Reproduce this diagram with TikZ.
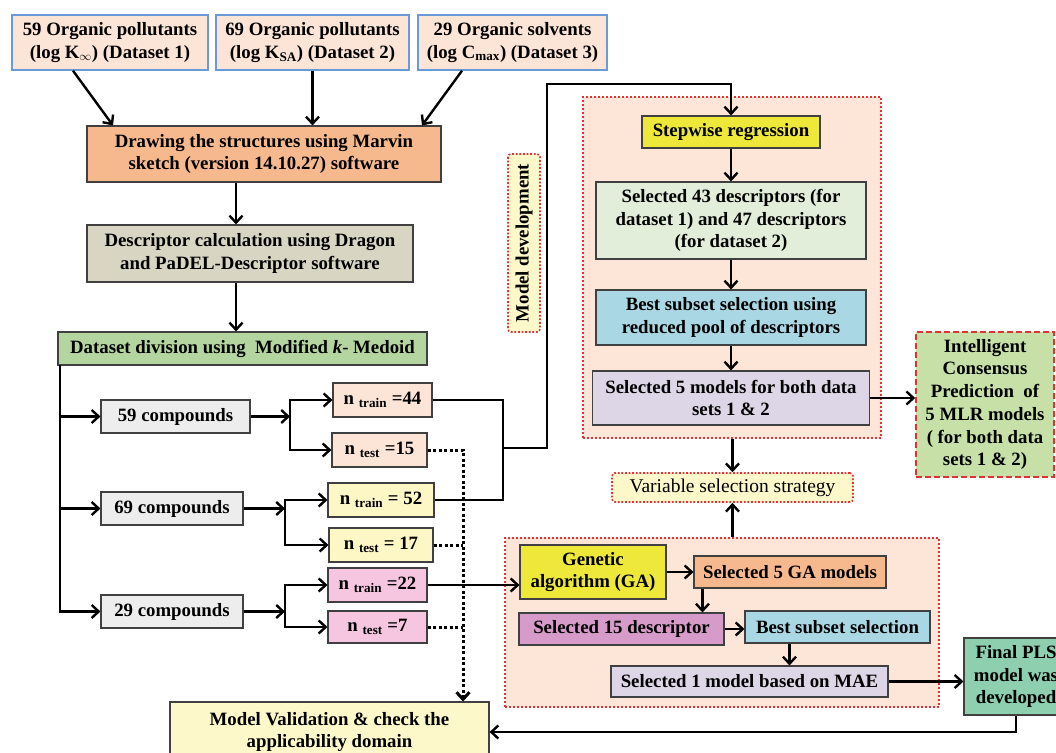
\documentclass[tikz,border=0pt]{standalone}
\usepackage{fontspec}
\setmainfont{Liberation Serif}
\usetikzlibrary{arrows.meta}

\definecolor{peach}{RGB}{252,228,214}
\definecolor{salmon}{RGB}{246,185,142}
\definecolor{beige}{RGB}{217,213,195}
\definecolor{leaf}{RGB}{181,213,160}
\definecolor{greybox}{RGB}{237,237,237}
\definecolor{cream}{RGB}{253,246,197}
\definecolor{pinkbox}{RGB}{246,198,224}
\definecolor{regfill}{RGB}{253,229,215}
\definecolor{lemon}{RGB}{237,232,58}
\definecolor{mint}{RGB}{226,237,218}
\definecolor{sky}{RGB}{169,216,228}
\definecolor{lilac}{RGB}{220,214,230}
\definecolor{lime}{RGB}{198,224,168}
\definecolor{orchid}{RGB}{214,155,201}
\definecolor{jade}{RGB}{142,207,175}
\definecolor{paleyellow}{RGB}{252,248,202}
\definecolor{edgeblue}{RGB}{106,155,216}
\definecolor{dotred}{RGB}{224,50,50}

\tikzset{
  box/.style={draw=black!75,line width=1.1pt,inner sep=0pt,align=center,font=\fontsize{18.8}{22.7}\selectfont\bfseries},
  topbox/.style={box,draw=edgeblue,line width=1.4pt,fill=peach},
  region/.style={draw=dotred,fill=regfill,line width=2pt,dash pattern=on 2pt off 2pt,inner sep=0pt},
  tag/.style={draw=dotred,fill=paleyellow,line width=1.6pt,dash pattern=on 1.8pt off 1.8pt,rounded corners=3pt,inner sep=0pt,align=center,font=\fontsize{19.5}{22}\selectfont},
  flow/.style={line width=2.4pt,->},
  testline/.style={line width=3pt,dash pattern=on 3pt off 2.5pt},
}

\begin{document}
\begin{tikzpicture}[x=1pt,y=-1pt,>={Straight Barb[length=7pt,width=13pt]}]

\useasboundingbox (0,0) rectangle (1056,752);
\fill[white] (0,0) rectangle (1056,752);
\clip (0,0) rectangle (1056,752);

% the two dotted regions
\node[region,minimum width=298pt,minimum height=341pt] (mlreg) at (732,267.5) {};
\node[region,minimum width=434pt,minimum height=169pt] (gareg) at (722,622.5) {};

% datasets
\node[topbox,minimum width=196pt,minimum height=55pt] (d1) at (110,42.5) {59 Organic pollutants\\(log K\textsubscript{$\infty$}) (Dataset 1)};
\node[topbox,minimum width=193pt,minimum height=55pt] (d2) at (312.5,42.5) {69 Organic pollutants\\(log K\textsubscript{SA}) (Dataset 2)};
\node[topbox,minimum width=189pt,minimum height=55pt] (d3) at (512.5,42.5) {29 Organic solvents\\(log C\textsubscript{max}) (Dataset 3)};

\node[box,fill=salmon,minimum width=354pt,minimum height=56pt] (mar) at (264,154) {Drawing the structures using Marvin\\sketch (version 14.10.27) software};
\node[box,fill=beige,minimum width=326pt,minimum height=57pt] (desc) at (250,253.5) {Descriptor calculation using Dragon\\and PaDEL-Descriptor software};
\node[box,fill=leaf,minimum width=369pt,minimum height=33pt] (ds) at (242.5,348.5) {Dataset division using~ Modified \textit{k}- Medoid};

\node[box,fill=greybox,minimum width=149pt,minimum height=33pt] (c59) at (175.5,416.5) {59 compounds};
\node[box,fill=greybox,minimum width=142pt,minimum height=33pt] (c69) at (172,508.5) {69 compounds};
\node[box,fill=greybox,minimum width=142pt,minimum height=33pt] (c29) at (172,611.5) {29 compounds};

\node[box,fill=peach,minimum width=99pt,minimum height=34pt] (tr44) at (382.5,400) {n \textsubscript{train} =44};
\node[box,fill=peach,minimum width=95pt,minimum height=34pt] (te15) at (379.5,450) {n \textsubscript{test} =15};
\node[box,fill=cream,minimum width=106pt,minimum height=34pt] (tr52) at (381,500) {n \textsubscript{train} = 52};
\node[box,fill=cream,minimum width=104pt,minimum height=34pt] (te17) at (381,545) {n \textsubscript{test} = 17};
\node[box,fill=pinkbox,minimum width=99pt,minimum height=34pt] (tr22) at (377.5,585) {n \textsubscript{train} =22};
\node[box,fill=pinkbox,minimum width=99pt,minimum height=32pt] (te7) at (377.5,627) {n \textsubscript{test} =7};

\node[tag,font=\fontsize{18.8}{22.7}\selectfont\bfseries,rotate=90,minimum width=178pt,minimum height=32pt] (mdl) at (524,243) {Model development};

% stepwise branch
\node[box,fill=lemon,minimum width=178pt,minimum height=32pt] (step) at (731,132) {Stepwise regression};
\node[box,fill=mint,minimum width=270pt,minimum height=77pt] (s43) at (731,220.5) {Selected 43 descriptors (for\\dataset 1) and 47 descriptors\\(for dataset 2)};
\node[box,fill=sky,minimum width=270pt,minimum height=55pt] (bs1) at (731,317.5) {Best subset selection using\\reduced pool of descriptors};
\node[box,fill=lilac,minimum width=277pt,minimum height=54pt] (s5) at (731,398) {Selected 5 models for both data\\sets 1 \& 2};
\node[box,draw=dotred,line width=1.6pt,dash pattern=on 6pt off 3pt,fill=lime,minimum width=138pt,minimum height=145pt] (icp) at (985,404.5) {Intelligent\\Consensus\\Prediction~ of\\5 MLR models\\( for both data\\sets 1 \& 2)};

\node[tag,minimum width=241pt,minimum height=29pt] (vs) at (732.5,487.5) {Variable selection strategy};

% GA branch
\node[box,fill=lemon,minimum width=146pt,minimum height=54pt] (ga) at (593,572) {Genetic\\algorithm (GA)};
\node[box,fill=salmon,minimum width=192pt,minimum height=32pt] (s5ga) at (790,572) {Selected 5 GA models};
\node[box,fill=orchid,minimum width=205pt,minimum height=32pt] (s15) at (621.5,629) {Selected 15 descriptor};
\node[box,fill=sky,minimum width=185pt,minimum height=32pt] (bs2) at (837.5,627) {Best subset selection};
\node[box,fill=lilac,minimum width=277pt,minimum height=31pt] (sel1) at (749.5,681.5) {Selected 1 model based on MAE};
\node[box,fill=jade,minimum width=104pt,minimum height=77pt] (fin) at (1016,676.5) {Final PLS\\model was\\developed};

\node[box,fill=paleyellow,minimum width=319pt,minimum height=60pt] (mv) at (329.5,732) {Model Validation \& check the\\applicability domain};

% helper points
\coordinate (mid) at (236,0);
\coordinate (dsl) at (60,365);
\coordinate (b59) at (290,416.5);
\coordinate (b69) at (285,508.5);
\coordinate (b29) at (285,611.5);
\coordinate (jn) at (503,448);
\coordinate (up) at (547,84);
\coordinate (dt) at (463,450);
\path ([xshift=9pt]s5ga.south west) coordinate (g1);
\path ([xshift=-48pt]bs2.south) coordinate (g2);

\draw[flow] ([xshift=-37pt]d1.south) -- ([xshift=-151pt]mar.north);
\draw[flow] (d2.south) -- (d2 |- mar.north);
\draw[flow] ([xshift=-50.5pt]d3.south) -- ([xshift=158pt]mar.north);
\draw[flow] (mar.south -| mid) -- (desc.north -| mid);
\draw[flow] (desc.south -| mid) -- (ds.north -| mid);

\draw[flow] (dsl) |- (c59);
\draw[flow] (dsl) |- (c69);
\draw[flow] (dsl) |- (c29);

\draw[flow] (c59) -- (b59);
\draw[flow] (b59) |- (tr44);
\draw[flow] (b59) |- (te15);
\draw[flow] (c69) -- (b69);
\draw[flow] (b69) |- (tr52);
\draw[flow] (b69) |- (te17);
\draw[flow] (c29) -- (b29);
\draw[flow] (b29) |- (tr22);
\draw[flow] (b29) |- (te7);

\draw[line width=2.4pt] (tr44) -| (jn) |- (tr52);
\draw[flow] (jn) -| (up) -| (step);

\draw[testline,->] (te15) -- (dt) -- (dt |- mv.north);
\draw[testline] (te17) -- (te17 -| dt);
\draw[testline] (te7) -- (te7 -| dt);

\draw[flow] (tr22) -- (tr22 -| ga.west);

\path[flow] (step) edge (s43)
      (s43) edge (bs1)
            (bs1) edge (s5);
\draw[flow] (s5) -- (s5 -| icp.west);
\draw[flow] (vs |- mlreg.south) -- (vs);
\draw[flow] (vs |- gareg.north) -- (vs);

\draw[flow] (ga) -- (s5ga);
\draw[flow] (g1) -- (g1 |- s15.north);
\draw[flow] (s15) -- (s15 -| bs2.west);
\draw[flow] (g2) -- (g2 |- sel1.north);
\draw[flow] (sel1) -- (sel1 -| fin.west);
\draw[flow] (fin.south) |- (mv.east);

\end{tikzpicture}
\end{document}
